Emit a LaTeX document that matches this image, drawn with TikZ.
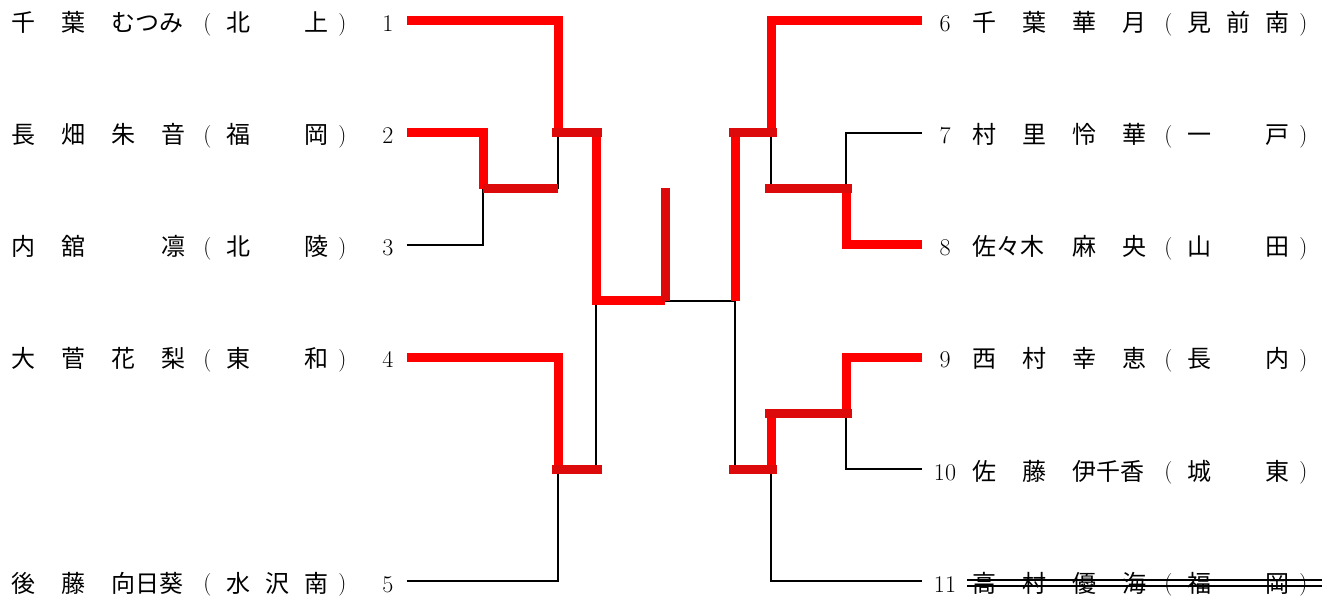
\documentclass[tikz,border=0pt]{standalone}
\usepackage{fontspec}
\newfontfamily\jp{Noto Sans CJK JP}
\definecolor{barred}{HTML}{DC0A0A}
\newlength\px \setlength\px{0.75pt}
\newcommand\at[2]{\rlap{\hspace*{#1\px}#2}}
\newcommand\kakko[1]{\raisebox{1pt}{\fontsize{17}{17}\selectfont #1}}
% one row: four name cells, then the school in brackets
\newcommand\player[7]{{\jp\at{0}{#1}\at{50}{#2}\at{100}{#3}\at{150}{#4}\at{215}{#5}\at{254}{#6}\at{293}{#7}}\at{192}{\kakko{(}}\at{327}{\kakko{)}}\hspace*{340\px}}

\begin{document}
\begin{tikzpicture}[x=0.75pt,y=-0.75pt,font=\fontsize{18}{18}\selectfont,
    entry/.style={anchor=base west,inner sep=0},
    seed/.style={anchor=base,inner sep=0},
    winline/.style={draw=red,line width=6.75pt},
    matchbar/.style={draw=barred,line width=6.75pt},
    loseline/.style={draw=black,line width=1.9pt},
    strike/.style={draw=black,line width=1.6pt}]
    \useasboundingbox (0,0) rectangle (1340,599);

    % left block
    \node[entry] (a1) at (11,32) {\player{千}{葉}{むつみ}{}{北}{}{上}};
    \node[entry] (a2) at (11,144) {\player{長}{畑}{朱}{音}{福}{}{岡}};
    \node[entry] (a3) at (11,256) {\player{内}{舘}{}{凛}{北}{}{陵}};
    \node[entry] (a4) at (11,368) {\player{大}{菅}{花}{梨}{東}{}{和}};
    \node[entry] (a5) at (11,592) {\player{後}{藤}{向日葵}{}{水}{沢}{南}};
    \node[seed] (n1) at (388,32) {1};
    \node[seed] (n2) at (388,144) {2};
    \node[seed] (n3) at (388,256) {3};
    \node[seed] (n4) at (388,368) {4};
    \node[seed] (n5) at (388,592) {5};

    % right block
    \node[seed] (n6) at (945,32) {6};
    \node[seed] (n7) at (945,144) {7};
    \node[seed] (n8) at (945,256) {8};
    \node[seed] (n9) at (945,368) {9};
    \node[seed] (n10) at (945,480) {10};
    \node[seed] (n11) at (945,592) {11};
    \node[entry] (a6) at (972,32) {\player{千}{葉}{華}{月}{見}{前}{南}};
    \node[entry] (a7) at (972,144) {\player{村}{里}{怜}{華}{一}{}{戸}};
    \node[entry] (a8) at (972,256) {\player{佐々木}{}{麻}{央}{山}{}{田}};
    \node[entry] (a9) at (972,368) {\player{西}{村}{幸}{恵}{長}{}{内}};
    \node[entry] (a10) at (972,480) {\player{佐}{藤}{伊千香}{}{城}{}{東}};
    \node[entry] (a11) at (972,592) {\player{高}{村}{優}{海}{福}{}{岡}};
    \draw[strike] (967,580) -- (1322,580);
    \draw[strike] (967,586) -- (1322,586);

    % line ends
    \coordinate (s1) at (407,21);
    \coordinate (s2) at (407,133);
    \coordinate (s3) at (407,245);
    \coordinate (s4) at (407,357);
    \coordinate (s5) at (407,581);
    \coordinate (s6) at (922,21);
    \coordinate (s7) at (922,133);
    \coordinate (s8) at (922,245);
    \coordinate (s9) at (922,357);
    \coordinate (s10) at (922,469);
    \coordinate (s11) at (922,581);

    % match points
    \coordinate (m23) at (483,189);
    \coordinate (m1) at (558,133);
    \coordinate (m45) at (558,469);
    \coordinate (ml) at (596,301);
    \coordinate (mf) at (665,301);
    \coordinate (m78) at (846,189);
    \coordinate (m6) at (771,133);
    \coordinate (m910) at (846,413);
    \coordinate (m11) at (771,469);
    \coordinate (mr) at (735,301);

    % lost
    \draw[loseline] (s3) -| (m23);
    \draw[loseline] (m23 -| m1) -- (m1);
    \draw[loseline] (s5) -| (m45);
    \draw[loseline] (m45 -| ml) -- (ml);
    \draw[loseline] (mf) -- (mr);
    \draw[loseline] (s7) -| (m78);
    \draw[loseline] (m78 -| m6) -- (m6);
    \draw[loseline] (s10) -| (m910);
    \draw[loseline] (s11) -| (m11);
    \draw[loseline] (m11 -| mr) -- (mr);

    % won
    \draw[winline] (s1) -| (m1);
    \draw[winline] (s2) -| (m23);
    \draw[winline] (s4) -| (m45);
    \draw[winline] (m1 -| ml) -- (ml) -- (mf);
    \draw[winline] (s6) -| (m6);
    \draw[winline] (s8) -| (m78);
    \draw[winline] (s9) -| (m910);
    \draw[winline] (m910 -| m11) -- (m11);
    \draw[winline] (m6 -| mr) -- (mr);

    % match bars
    \draw[matchbar] (m23) -- (m23 -| m1);
    \draw[matchbar] ([xshift=-4.5]m1) -- ([xshift=4.5]m1 -| ml);
    \draw[matchbar] ([xshift=-4.5]m45) -- ([xshift=4.5]m45 -| ml);
    \draw[matchbar] (mf) -- (665,188);
    \draw[matchbar] ([xshift=4.5]m78) -- ([xshift=-4.5]m78 -| m6);
    \draw[matchbar] ([xshift=4.5]m6) -- ([xshift=-4.5]m6 -| mr);
    \draw[matchbar] ([xshift=4.5]m910) -- ([xshift=-4.5]m910 -| m11);
    \draw[matchbar] ([xshift=4.5]m11) -- ([xshift=-4.5]m11 -| mr);
\end{tikzpicture}
\end{document}
